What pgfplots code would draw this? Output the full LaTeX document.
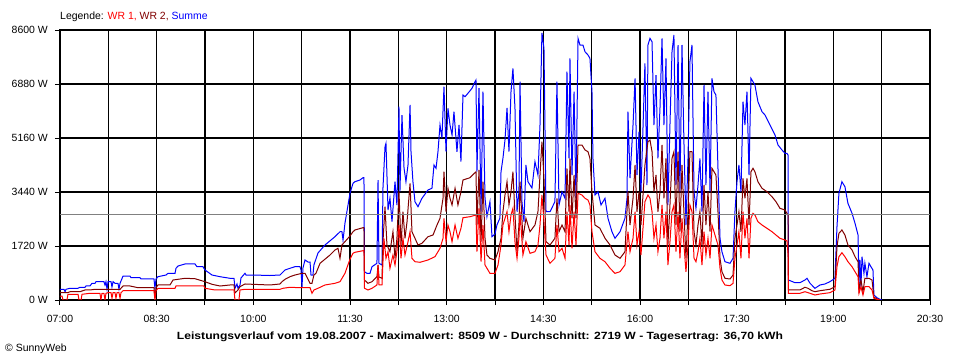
\documentclass[border=0pt]{standalone}
\usepackage{fontspec}
\setmainfont{Liberation Sans}
\usepackage{pgfplots}
\pgfplotsset{compat=1.18}
\definecolor{wrone}{RGB}{255,0,0}
\definecolor{wrtwo}{RGB}{128,0,0}
\definecolor{summe}{RGB}{0,0,255}
\definecolor{avg}{RGB}{128,128,128}
\begin{document}
\fontsize{10.5}{12}\selectfont
\begin{tikzpicture}
\begin{axis}[
  name=ax, at={(0,0)}, anchor=south west,
  width=870bp, height=270bp, scale only axis,
  xmin=0, xmax=810, ymin=0, ymax=8600,
  xtick={0,90,...,810}, minor xtick={45,135,...,765},
  xticklabels={07:00,08:30,10:00,11:30,13:00,14:30,16:00,17:30,19:00,20:30},
  ytick={0,1720,3440,5160,6880,8600},
  yticklabels={0 W,1720 W,3440 W,5160 W,6880 W,8600 W},
  grid=both,
  major grid style={black, line width=1.2bp},
  minor grid style={black, line width=1.2bp},
  axis line style={black, line width=1.2bp},
  tick align=outside, major tick length=5bp, minor tick length=5bp,
  major tick style={black, line width=1bp}, minor tick style={black, line width=1bp},
  xtick pos=bottom, ytick pos=left,
  ticklabel style={font=\fontsize{10.5}{12}\selectfont, inner sep=0pt},
  xticklabel style={anchor=center, yshift=-14bp},
  yticklabel style={anchor=east, xshift=-7bp},
  clip=true,
]
% Summe
\addplot[summe, line width=1bp] coordinates {
(0,341)(3.7,341)(4.7,264)(5.6,341)(9.3,373)(16.8,373)(18.6,405)(23.3,405)(24.2,446)(27.9,446)
(29.8,532)(32.6,532)(33.5,583)(40.9,583)(41.9,478)(42.8,583)(43.8,341)(44.7,583)(47.5,583)(48.4,414)
(49.4,583)(51.2,532)(54.0,532)(54.9,350)(55.9,532)(58.7,764)(65.2,764)(66.1,710)(74.5,710)(75.4,669)
(83.8,669)(87.5,669)(88.4,373)(89.4,669)(91.2,742)(98.7,796)(100.6,850)(107.1,850)(108.0,1010)(109.9,1083)
(116.4,1147)(125.7,1147)(127.5,1061)(133.1,1061)(135.0,956)(141.5,796)(149.0,742)(158.3,691)(162.0,691)(162.9,373)
(164.8,510)(165.7,373)(167.6,478)(168.5,701)(172.2,850)(173.2,796)(179.7,796)(195.5,780)(204.8,796)(207.6,892)
(209.5,956)(214.1,1010)(218.8,1061)(223.4,1061)(224.4,956)(225.3,414)(226.2,1019)(228.1,1274)(230.9,1210)(232.8,1210)
(233.7,796)(235.5,796)(236.4,1115)(240.2,1497)(246.7,1752)(256.0,2016)(260.7,2175)(262.5,2175)(263.5,1911)(264.4,2166)
(265.3,2443)(270.0,3398)(272.8,3717)(274.6,3768)(279.3,3822)(282.1,3895)(283.0,3895)(283.5,901)(285.8,850)(288.6,850)
(290.5,1061)(295.1,1169)(296.1,3822)(297.0,1169)(299.8,1115)(300.7,3567)(302.6,4883)(303.5,4991)(305.4,2867)(307.2,3249)
(309.1,2494)(311.9,3768)(313.7,3026)(315.6,6157)(316.5,3449)(318.4,5892)(320.3,4204)(322.1,3768)(324.0,4300)(325.9,6211)
(326.8,4723)(328.6,3768)(330.5,3131)(333.3,2972)(337.0,3239)(342.6,3504)(346.3,3558)(348.2,4300)(350.1,4195)(351.9,4723)
(353.8,5574)(355.6,5160)(357.5,6794)(359.4,4723)(361.2,6106)(363.1,5574)(365.0,5255)(366.8,5997)(369.6,4723)(371.5,5574)
(373.3,4405)(375.2,6529)(377.1,6475)(379.8,6584)(383.6,6743)(386.4,6953)(387.3,7007)(388.2,4086)(390.1,6752)(392.0,2812)
(393.8,6635)(395.7,3249)(397.5,2653)(400.3,3131)(402.2,2016)(405.0,2102)(406.8,2389)(409.6,2612)(410.6,4086)(412.4,4513)
(414.3,5096)(416.2,6115)(418.0,4723)(419.9,6635)(421.7,7380)(423.6,6115)(425.5,2812)(427.3,3449)(428.3,6953)(430.1,3131)
(432.0,2494)(433.8,4300)(435.7,3768)(439.4,3567)(442.2,4405)(445.0,3981)(446.9,5574)(448.7,8509)(450.6,8017)(452.5,2812)
(456.2,2812)(460.8,3131)(462.7,6953)(464.6,3026)(467.4,3449)(470.2,3239)(472.0,7272)(473.9,4513)(474.8,7698)(476.7,3981)
(478.6,6635)(480.4,3239)(482.3,8335)(484.1,8122)(486.9,8122)(488.8,7908)(491.6,7803)(493.4,7698)(495.3,6635)(496.2,4513)
(498.1,3344)(500.9,3449)(503.7,3026)(507.4,3239)(510.2,2602)(513.9,2175)(516.7,1965)(521.4,2175)(526.0,2602)(527.9,3239)
(528.8,5997)(530.7,3886)(533.5,5574)(535.4,7061)(537.2,3981)(539.1,5360)(540.9,3449)(542.8,5500)(544.6,7539)(546.5,3663)
(547.4,8122)(549.3,8335)(551.2,8227)(553.0,5574)(554.9,7166)(556.7,4513)(558.6,6106)(560.5,8335)(562.3,5574)(564.2,7698)
(566.0,3026)(567.9,5574)(569.8,7908)(571.6,8440)(573.5,3663)(575.4,8122)(577.2,3449)(579.1,8122)(580.9,5042)(582.8,2389)
(584.7,4513)(586.5,7590)(588.4,8122)(590.3,3449)(592.1,2921)(594.0,3663)(595.8,4513)(597.7,2812)(599.6,6848)(601.4,3663)
(603.3,6635)(605.2,3449)(607.0,7061)(608.9,6635)(610.7,6529)(612.6,4195)(614.5,1965)(616.3,1538)(619.1,1220)(623.8,1169)
(626.6,1328)(628.4,2812)(630.3,3768)(632.1,4300)(634.0,3449)(635.9,6316)(637.7,5574)(639.6,6635)(641.5,3981)(643.3,7061)
(645.2,6953)(647.0,6848)(649.8,6316)(653.6,5997)(656.4,5892)(661.0,5574)(665.7,5255)(668.5,4937)(672.2,4778)(675.0,4672)
(676.8,4672)(677.8,4618)(678.2,637)(684.3,551)(688.9,551)(693.6,637)(695.5,691)(698.3,532)(702.9,373)(707.6,478)
(712.2,510)(716.8,583)(721.5,691)(723.4,2335)(725.2,3398)(728.0,3768)(730.8,3609)(733.6,3080)(737.4,2761)(740.2,2443)
(743.0,2070)(743.9,532)(744.8,1274)(745.7,424)(746.7,1379)(748.5,850)(749.4,1169)(751.3,742)(753.2,1169)(755.0,1061)
(756.9,956)(757.8,159)(760.6,73)(763.4,22)(765.3,0)
};
% WR 2
\addplot[wrtwo, line width=1bp] coordinates {
(0,233)(7.4,233)(9.3,264)(18.6,264)(23.3,319)(27.9,319)(32.6,341)(44.7,341)(55.9,341)(58.7,446)
(65.2,446)(72.6,392)(83.8,392)(87.5,392)(88.4,64)(89.4,392)(91.2,478)(102.4,478)(105.2,637)(109.9,659)
(116.4,691)(125.7,678)(135.0,583)(141.5,500)(149.0,446)(158.3,478)(162.0,478)(162.9,223)(165.7,319)(167.6,424)
(172.2,510)(195.5,478)(204.8,510)(206.7,583)(209.5,659)(214.1,742)(218.8,796)(225.3,850)(228.1,850)(232.8,532)
(234.6,532)(236.4,796)(238.3,850)(242.1,1169)(251.4,1433)(256.0,1593)(258.8,1647)(260.7,1328)(262.5,1752)(270.0,2038)
(272.8,2175)(274.6,2230)(282.1,2303)(283.0,2303)(283.5,637)(286.7,532)(290.5,583)(295.1,742)(296.1,1115)(297.0,733)
(299.8,691)(300.7,1857)(302.6,2972)(304.4,1752)(307.2,1538)(310.0,2175)(311.9,1328)(313.7,1965)(315.6,3449)(317.5,1752)
(319.3,2812)(321.2,1965)(323.1,2494)(325.9,3717)(327.7,2175)(330.5,1965)(333.3,1752)(337.0,1806)(342.6,2016)(347.3,2070)
(351.0,2389)(353.8,2602)(356.6,3239)(357.5,4086)(359.4,2812)(361.2,3558)(363.1,3239)(365.0,3026)(367.8,3558)(370.5,3026)
(373.3,3449)(375.2,3822)(381.7,3895)(387.3,4086)(388.2,2389)(390.1,4141)(392.0,1857)(393.8,3768)(395.7,1965)(397.5,1433)
(400.3,1328)(405.0,1274)(407.8,1538)(410.6,1965)(412.4,2812)(414.3,3344)(416.2,3768)(418.0,3026)(419.9,3449)(421.7,4086)
(423.6,2707)(425.5,1538)(427.3,2389)(428.3,3768)(431.0,1965)(433.8,2602)(437.6,2175)(442.2,2389)(445.0,2812)(446.9,3981)
(448.7,5042)(450.6,3876)(452.5,1857)(456.2,1752)(460.8,1965)(462.7,3239)(464.6,2175)(467.4,2389)(470.2,2175)(472.0,4195)
(473.9,2812)(474.8,4513)(476.7,2602)(478.6,3981)(480.4,2602)(482.3,4937)(486.0,4937)(488.8,4778)(491.6,4723)(493.4,4513)
(495.3,3449)(498.1,2389)(502.7,2284)(507.4,1965)(512.1,1752)(516.7,1433)(521.4,1328)(526.0,1538)(528.8,3449)(530.7,2389)
(533.5,3239)(535.4,4300)(537.2,2812)(539.1,3449)(540.9,2389)(542.8,3344)(544.6,4300)(547.4,5042)(549.3,5096)(551.2,4723)
(553.0,3449)(554.9,3981)(556.7,2812)(558.6,3449)(560.5,4937)(562.3,3239)(564.2,4513)(566.0,1752)(567.9,3026)(569.8,4513)
(571.6,4723)(573.5,2389)(575.4,4723)(577.2,2175)(579.1,4300)(580.9,2812)(582.8,1328)(584.7,2812)(586.5,4723)(588.4,4723)
(590.3,2175)(592.1,1752)(594.0,2389)(595.8,2812)(597.7,1752)(599.6,3663)(601.4,2389)(603.3,3449)(605.2,2175)(607.0,4195)
(608.9,4086)(610.7,3981)(612.6,2812)(614.5,1328)(616.3,901)(619.1,691)(623.8,669)(626.6,796)(628.4,1965)(630.3,2389)
(632.1,2812)(634.0,2175)(635.9,3876)(637.7,3239)(639.6,3876)(641.5,2389)(643.3,4086)(645.2,4195)(647.0,4086)(649.8,3768)
(653.6,3558)(658.2,3449)(662.9,3290)(666.6,3131)(670.3,2921)(675.0,2867)(676.8,2761)(677.8,2707)(678.2,319)(684.3,319)
(688.9,319)(693.6,405)(696.4,373)(700.1,296)(702.9,264)(707.6,296)(716.8,341)(721.5,424)(723.4,1698)(725.2,2124)
(728.0,2230)(730.8,2070)(733.6,1752)(737.4,1593)(740.2,1379)(743.0,1220)(743.9,319)(745.7,637)(747.6,264)(749.4,691)
(753.2,691)(756.0,637)(757.8,86)(760.6,41)(763.4,0)
};
% WR 1
\addplot[wrone, line width=1bp] coordinates {
(0,127)(1.9,127)(2.8,0)(6.5,0)(7.4,182)(16.8,182)(17.7,0)(19.6,0)(20.5,182)(27.9,213)
(37.2,213)(38.1,0)(39.1,213)(40.9,213)(41.9,0)(42.8,213)(44.7,233)(47.5,233)(48.4,54)(49.4,233)
(51.2,233)(52.1,54)(53.1,233)(54.9,233)(55.9,54)(56.8,233)(58.7,296)(87.5,296)(88.4,0)(89.4,296)
(91.2,373)(107.1,373)(108.0,446)(134.0,446)(135.0,373)(144.3,319)(162.0,319)(162.9,0)(166.6,0)(167.6,319)
(172.2,341)(204.8,341)(207.6,373)(214.1,405)(223.4,392)(232.8,392)(234.6,213)(236.4,319)(240.2,373)(246.7,478)
(256.0,532)(260.7,583)(265.3,850)(270.0,1300)(272.8,1487)(274.6,1519)(282.1,1570)(283.0,1570)(283.5,373)(286.7,319)
(290.5,373)(295.1,478)(296.1,1115)(297.0,478)(299.8,478)(301.6,1965)(303.5,1328)(305.4,1538)(307.2,1010)(310.0,1433)
(311.9,1115)(313.7,1538)(315.6,2389)(317.5,1328)(319.3,1965)(321.2,1433)(324.0,1857)(325.9,2175)(327.7,1328)(330.5,1220)
(335.2,1201)(342.6,1274)(349.1,1379)(353.8,1647)(356.6,1965)(357.5,2602)(359.4,1857)(361.2,2389)(363.1,2175)(365.0,1857)
(367.8,2389)(370.5,1965)(373.3,2284)(375.2,2621)(381.7,2653)(387.3,2707)(388.2,1538)(390.1,2921)(392.0,1220)(393.8,2389)
(395.7,1115)(397.5,1010)(400.3,850)(405.0,850)(407.8,1115)(410.6,1752)(412.4,2389)(414.3,2602)(416.2,2812)(418.0,2175)
(419.9,2707)(421.7,2921)(423.6,1857)(425.5,1328)(427.3,1965)(428.3,2812)(431.0,1433)(433.8,1857)(437.6,1487)(442.2,1538)
(445.0,1752)(446.9,2389)(448.7,3344)(450.6,2494)(452.5,1433)(456.2,1169)(460.8,1328)(462.7,2389)(464.6,1538)(467.4,1647)
(470.2,1328)(472.0,2812)(473.9,1752)(474.8,3026)(476.7,1647)(478.6,2812)(480.4,1752)(482.3,3398)(486.0,3344)(488.8,3239)
(491.6,3185)(493.4,3026)(495.3,2175)(498.1,1538)(502.7,1328)(507.4,1220)(512.1,1010)(516.7,850)(521.4,901)(526.0,1115)
(528.8,2175)(530.7,1538)(533.5,1965)(535.4,2812)(537.2,1752)(539.1,2175)(540.9,1433)(542.8,2293)(544.6,3131)(547.4,3344)
(549.3,3239)(551.2,2812)(553.0,1965)(554.9,2389)(556.7,1538)(558.6,1965)(560.5,3026)(562.3,1965)(564.2,2812)(566.0,1115)
(567.9,1857)(569.8,2812)(571.6,3026)(573.5,1538)(575.4,2812)(577.2,1328)(579.1,2602)(580.9,1752)(582.8,901)(584.7,1752)
(586.5,3026)(588.4,2812)(590.3,1328)(592.1,1220)(594.0,1538)(595.8,1965)(597.7,1115)(599.6,2175)(601.4,1433)(603.3,1965)
(605.2,1328)(607.0,2389)(608.9,2175)(610.7,1965)(612.6,1752)(614.5,1010)(616.3,637)(619.1,478)(623.8,455)(626.6,532)
(628.4,1328)(630.3,1752)(632.1,2175)(634.0,1328)(635.9,2812)(637.7,1965)(639.6,2602)(641.5,1328)(643.3,2602)(645.2,2761)
(647.0,2707)(649.8,2494)(653.6,2389)(658.2,2284)(662.9,2175)(666.6,2070)(670.3,1965)(675.0,1911)(676.8,1879)(677.8,1497)
(678.2,213)(688.9,213)(693.6,264)(698.3,213)(702.9,159)(707.6,191)(716.8,233)(721.5,319)(723.4,1061)(725.2,1379)
(728.0,1507)(730.8,1379)(733.6,1220)(737.4,1061)(740.2,901)(743.0,742)(743.9,213)(745.7,424)(747.6,159)(749.4,424)
(753.2,424)(756.0,319)(757.8,54)(760.6,22)(763.4,0)
};
% Durchschnitt
\addplot[avg, line width=1bp] coordinates {(0,2719)(810,2719)};
\end{axis}
\pgfresetboundingbox
\path[use as bounding box] ([shift={(-60bp,-60bp)}]ax.south west) rectangle ([shift={(900bp,300bp)}]ax.south west);
\node[anchor=west, inner sep=0pt] at ([shift={(0bp,283bp)}]ax.south west) {Legende: \textcolor{wrone}{WR 1,} \textcolor{wrtwo}{WR 2,} \textcolor{summe}{Summe}};
\node[inner sep=0pt] at ([shift={(420bp,-37bp)}]ax.south west) {\resizebox{606bp}{\height}{\bfseries Leistungsverlauf vom 19.08.2007 - Maximalwert: 8509 W - Durchschnitt: 2719 W - Tagesertrag: 36,70 kWh}};
\node[anchor=west, inner sep=0pt] at ([shift={(-55bp,-49bp)}]ax.south west) {\textcopyright\ SunnyWeb};
\end{tikzpicture}
\end{document}
